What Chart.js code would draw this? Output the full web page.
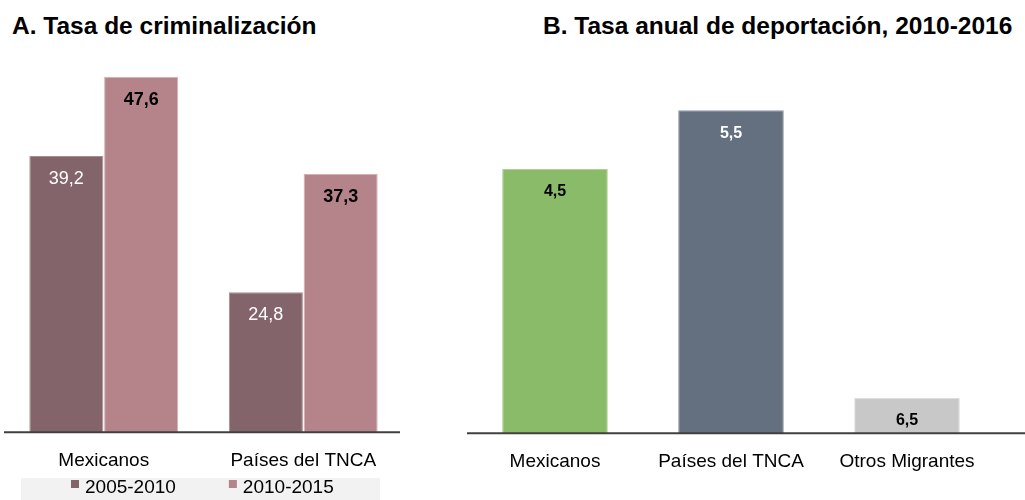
<!DOCTYPE html>
<html lang="es">
<head>
    <meta charset="UTF-8">
    <title>Criminalización y deportación</title>
    <script src="https://cdn.jsdelivr.net/npm/chart.js"></script>
    <style>
        body { margin: 0; width: 1025px; height: 500px; overflow: hidden; background: #fff; font-family: Arial, "Liberation Sans", sans-serif; }
        .titulo { position: absolute; top: 14px; font-weight: bold; font-size: 24.5px; line-height: 1; color: #000; white-space: nowrap; }
        .panel { position: absolute; top: 0; height: 500px; }
    </style>
</head>
<body>
    <div class="titulo" style="left: 12px;">A. Tasa de criminalización</div>
    <div class="titulo" style="left: 543px;">B. Tasa anual de deportación, 2010-2016</div>

    <div class="panel" style="left: 0; width: 410px;"><canvas id="chartA"></canvas></div>
    <div class="panel" style="left: 460px; width: 565px;"><canvas id="chartB"></canvas></div>

<script>
    // panel A
    const categoriasA = ['Mexicanos', 'Países del TNCA'];
    const periodos = ['2005-2010', '2010-2015'];
    const tasa2005 = [39.2, 24.8];
    const tasa2010 = [47.6, 37.3];

    // panel B
    const categoriasB = ['Mexicanos', 'Países del TNCA', 'Otros Migrantes'];
    const deportacion = [4.5, 5.5, 0.6];
    const etiquetasB = ['4,5', '5,5', '6,5'];

    const fuente = 'Arial, "Liberation Sans", sans-serif';
    Chart.defaults.font.family = fuente;
    Chart.defaults.color = '#000';

    function coma(v) { return v.toFixed(1).replace('.', ','); }

    // linea base del eje
    function lineaBase(x0, x1) {
        return {
            id: 'lineaBase',
            afterDatasetsDraw(chart) {
                const c = chart.ctx, y = chart.chartArea.bottom;
                c.save();
                c.strokeStyle = '#404040';
                c.lineWidth = 2;
                c.beginPath();
                c.moveTo(x0, y);
                c.lineTo(x1 === null ? chart.width : x1, y);
                c.stroke();
                c.restore();
            }
        };
    }

    // etiquetas dentro de las barras
    const etiquetas = {
        id: 'etiquetas',
        afterDatasetsDraw(chart) {
            const c = chart.ctx;
            chart.data.datasets.forEach((ds, i) => {
                chart.getDatasetMeta(i).data.forEach((bar, j) => {
                    const st = ds.etiquetaEstilo[j];
                    c.save();
                    c.font = st.font;
                    c.fillStyle = st.color;
                    c.textAlign = 'center';
                    c.textBaseline = 'middle';
                    c.fillText(ds.textos[j], bar.x, bar.y + 23);
                    c.restore();
                });
            });
        }
    };

    // leyenda con fondo gris, debajo de las categorias
    const leyenda = {
        id: 'leyenda',
        afterDraw(chart) {
            const c = chart.ctx;
            c.save();
            c.fillStyle = '#f2f2f2';
            c.fillRect(21, 478, 359, 30);
            c.font = '19px ' + fuente;
            c.textBaseline = 'middle';
            let x = 71;
            chart.data.datasets.forEach(ds => {
                c.fillStyle = ds.backgroundColor;
                c.fillRect(x, 480, 8, 8);
                c.fillStyle = '#000';
                c.fillText(ds.label, x + 14, 488);
                x += 14 + c.measureText(ds.label).width + 53;
            });
            c.restore();
        }
    };

    new Chart(document.getElementById('chartA'), {
        type: 'bar',
        data: {
            labels: categoriasA,
            datasets: [{
                label: periodos[0],
                data: tasa2005,
                backgroundColor: '#84646b',
                borderColor: '#a98d94',
                borderWidth: 1,
                textos: tasa2005.map(coma),
                etiquetaEstilo: tasa2005.map(() => ({ font: '18px ' + fuente, color: '#fff' }))
            }, {
                label: periodos[1],
                data: tasa2010,
                backgroundColor: '#b5848b',
                borderColor: '#d3b0b5',
                borderWidth: 1,
                textos: tasa2010.map(coma),
                etiquetaEstilo: tasa2010.map(() => ({ font: 'bold 18px ' + fuente, color: '#000' }))
            }]
        },
        options: {
            responsive: true,
            maintainAspectRatio: false,
            animation: false,
            layout: { padding: { top: 54, left: 4, right: 7, bottom: 11 } },
            categoryPercentage: 0.75,
            barPercentage: 0.99,
            plugins: {
                legend: { display: false },
                tooltip: { enabled: false }
            },
            scales: {
                x: {
                    grid: { display: false, drawTicks: false },
                    border: { display: false },
                    ticks: { font: { size: 19 }, color: '#000', padding: 17 }
                },
                y: {
                    display: false,
                    min: 10,
                    max: 50
                }
            }
        },
        plugins: [etiquetas, lineaBase(4, 400), leyenda]
    });

    const coloresB = ['#8abb68', '#64707f', '#c8c8c8'];
    const bordesB = ['#add294', '#8d98a6', '#dedede'];

    new Chart(document.getElementById('chartB'), {
        type: 'bar',
        data: {
            labels: categoriasB,
            datasets: [{
                label: 'Tasa anual de deportación',
                data: deportacion,
                backgroundColor: coloresB,
                borderColor: bordesB,
                borderWidth: 1,
                textos: etiquetasB,
                etiquetaEstilo: [
                    { font: 'bold 16px ' + fuente, color: '#000' },
                    { font: 'bold 16px ' + fuente, color: '#fff' },
                    { font: 'bold 16px ' + fuente, color: '#000' }
                ]
            }]
        },
        options: {
            responsive: true,
            maintainAspectRatio: false,
            animation: false,
            layout: { padding: { top: 81, left: 7, right: 30, bottom: 10 } },
            categoryPercentage: 0.6,
            barPercentage: 1,
            plugins: {
                legend: { display: false },
                tooltip: { enabled: false }
            },
            scales: {
                x: {
                    grid: { display: false, drawTicks: false },
                    border: { display: false },
                    ticks: { font: { size: 19 }, color: '#000', padding: 17 }
                },
                y: {
                    display: false,
                    min: 0,
                    max: 6
                }
            }
        },
        plugins: [etiquetas, lineaBase(7, null)]
    });
</script>
</body>
</html>
